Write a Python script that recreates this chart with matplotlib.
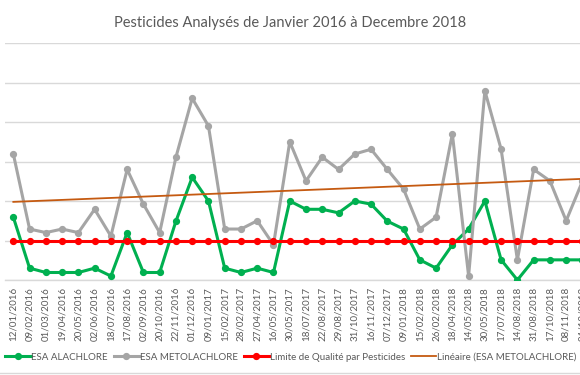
import matplotlib
matplotlib.use("Agg")
import matplotlib.pyplot as plt
import numpy as np
from matplotlib.lines import Line2D

plt.rcParams['font.family'] = ['Lato', 'DejaVu Sans']

dates = ["12/01/2016", "09/02/2016", "01/03/2016", "19/04/2016", "20/05/2016",
         "02/06/2016", "18/07/2016", "17/08/2016", "02/09/2016", "20/10/2016",
         "22/11/2016", "01/12/2016", "09/01/2017", "15/02/2017", "28/02/2017",
         "27/04/2017", "16/05/2017", "30/05/2017", "18/07/2017", "22/08/2017",
         "29/08/2017", "31/10/2017", "16/11/2017", "07/12/2017", "09/01/2018",
         "15/02/2018", "26/02/2018", "18/04/2018", "14/05/2018", "30/05/2018",
         "17/07/2018", "14/08/2018", "31/08/2018", "17/10/2018", "08/11/2018",
         "04/12/2018"]

alachlore = [0.159, 0.030, 0.019, 0.019, 0.019, 0.030, 0.010, 0.120, 0.019, 0.019,
             0.149, 0.260, 0.200, 0.030, 0.019, 0.030, 0.019, 0.200, 0.179, 0.179,
             0.170, 0.200, 0.192, 0.149, 0.129, 0.051, 0.030, 0.089, 0.129, 0.200,
             0.051, 0.000, 0.051, 0.051, 0.051, 0.051]

metolachlore = [0.319, 0.129, 0.120, 0.129, 0.120, 0.179, 0.111, 0.280, 0.192, 0.120,
                0.311, 0.460, 0.390, 0.129, 0.129, 0.150, 0.089, 0.350, 0.251, 0.311,
                0.280, 0.319, 0.331, 0.280, 0.230, 0.129, 0.159, 0.370, 0.010, 0.479,
                0.331, 0.051, 0.280, 0.251, 0.150, 0.250]

limite = [0.1] * len(dates)

GREEN = "#00B050"
GRAY = "#A5A5A5"
RED = "#FF0000"
ORANGE = "#C55A11"
TXT = "#595959"

fig = plt.figure(figsize=(5.8, 3.75), dpi=100)
W, H = 580, 375
n = len(dates)
step = 16.26
left_px = 5.2
ax = fig.add_axes([left_px / W, (H - 280) / H, n * step / W, (280 - 43) / H])

x = np.arange(n)
ax.plot(x, alachlore, color=GREEN, lw=2.2, marker='o', ms=4.2, zorder=3,
        label="ESA ALACHLORE")
ax.plot(x, metolachlore, color=GRAY, lw=2.2, marker='o', ms=4.2, zorder=4,
        label="ESA METOLACHLORE")
ax.plot(x, limite, color=RED, lw=2.2, marker='o', ms=4.2, zorder=5,
        label="Limite de Qualité par Pesticides")
coef = np.polyfit(x + 1, metolachlore, 1)
xt = np.array([0, n - 1])
ax.plot(xt, np.polyval(coef, xt + 1), color=ORANGE, lw=1.3, zorder=6,
        label="Linéaire (ESA METOLACHLORE)")

ax.set_xlim(-0.5, n - 0.5)
ax.set_ylim(0, 0.6)
ax.set_yticks(np.arange(0, 0.61, 0.1))
ax.yaxis.grid(True, color="#D9D9D9", lw=1.0)
ax.set_axisbelow(True)
ax.tick_params(axis='y', length=0, labelleft=False)
ax.set_xticks(x)
ax.set_xticklabels(dates, rotation=90, fontsize=7, color=TXT)
ax.tick_params(axis='x', length=0, pad=5)
for s in ['top', 'right', 'left']:
    ax.spines[s].set_visible(False)
ax.spines['bottom'].set_color("#D9D9D9")
ax.spines['bottom'].set_linewidth(1.0)

fig.text(0.5, 1 - 23 / H, "Pesticides Analysés de Janvier 2016 à Decembre 2018",
         ha='center', va='center', fontsize=10.5, color=TXT)

handles, labels = ax.get_legend_handles_labels()
leg = fig.legend(handles, labels, loc='center', bbox_to_anchor=(291 / W, 1 - 357 / H),
                 ncol=4, frameon=False, fontsize=7, handlelength=2.6,
                 handletextpad=0.1, columnspacing=0.6, labelcolor=TXT)

fig.add_artist(Line2D([0, 1], [1 - 373 / H, 1 - 373 / H], color="#D9D9D9", lw=1.0,
                      transform=fig.transFigure))

fig.savefig("out.png", dpi=100)
